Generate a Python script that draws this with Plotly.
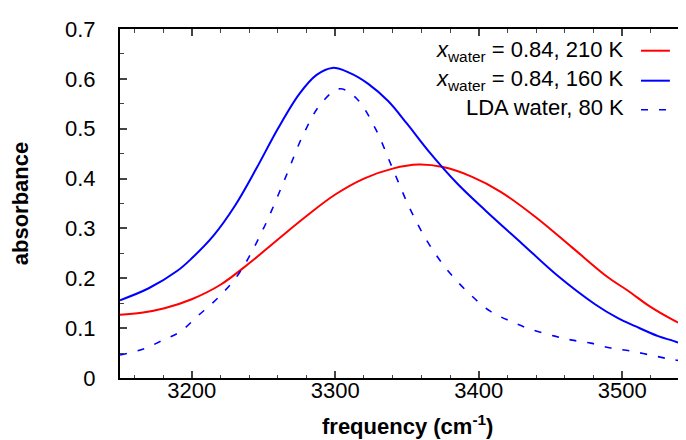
import plotly.graph_objects as go

# frequency (cm-1) and absorbance
freq_210 = [3150, 3165, 3181, 3200, 3220, 3240, 3260, 3280, 3300, 3320, 3340, 3358, 3375, 3395, 3415, 3440, 3465, 3490, 3504, 3520, 3535, 3550]
abs_210 = [0.127, 0.131, 0.140, 0.158, 0.187, 0.230, 0.278, 0.325, 0.368, 0.400, 0.420, 0.428, 0.423, 0.404, 0.374, 0.322, 0.262, 0.202, 0.175, 0.142, 0.117, 0.096]

freq_160 = [3150, 3170, 3190, 3200, 3215, 3230, 3245, 3260, 3275, 3287, 3298, 3310, 3323, 3337, 3350, 3365, 3385, 3405, 3430, 3455, 3481, 3497, 3509, 3525, 3536, 3550]
abs_160 = [0.156, 0.180, 0.215, 0.240, 0.285, 0.345, 0.420, 0.500, 0.570, 0.608, 0.622, 0.612, 0.590, 0.555, 0.510, 0.455, 0.390, 0.335, 0.270, 0.205, 0.148, 0.120, 0.104, 0.084, 0.074, 0.060]

freq_lda = [3150, 3167, 3180, 3192, 3204, 3218, 3233, 3250, 3265, 3278, 3290, 3303, 3315, 3328, 3340, 3352, 3365, 3380, 3395, 3408, 3422, 3436, 3453, 3465, 3478, 3492, 3506, 3523, 3537, 3550]
abs_lda = [0.046, 0.059, 0.076, 0.093, 0.124, 0.160, 0.210, 0.300, 0.400, 0.490, 0.550, 0.580, 0.560, 0.500, 0.420, 0.340, 0.270, 0.210, 0.165, 0.134, 0.114, 0.098, 0.084, 0.076, 0.070, 0.060, 0.054, 0.044, 0.036, 0.033]

labels = ['<i>x</i><sub>water</sub> = 0.84, 210 K',
          '<i>x</i><sub>water</sub> = 0.84, 160 K',
          'LDA water, 80 K']

FONT = 'Liberation Sans'
DASH = '7px,11px'

fig = go.Figure()
fig.add_trace(go.Scatter(x=freq_210, y=abs_210, mode='lines', line=dict(color='#ff0000', width=2, shape='spline')))
fig.add_trace(go.Scatter(x=freq_160, y=abs_160, mode='lines', line=dict(color='#0000ff', width=2, shape='spline')))
fig.add_trace(go.Scatter(x=freq_lda, y=abs_lda, mode='lines', line=dict(color='#0000ff', width=1.6, dash=DASH, shape='spline')))
# empty trace so the right-hand tick axis gets drawn
fig.add_trace(go.Scatter(x=[], y=[], yaxis='y2'))

# gnuplot style key: text right aligned, sample on the right
text_y = [0.937, 0.854, 0.7765]
line_y = [0.9378, 0.8519, 0.7688]
styles = [dict(color='#ff0000', width=2), dict(color='#0000ff', width=2), dict(color='#0000ff', width=1.6, dash=DASH)]
for lab, ty, ly, st in zip(labels, text_y, line_y, styles):
    fig.add_annotation(x=0.8815, y=ty, xref='paper', yref='paper', text=lab, showarrow=False,
                       xanchor='right', yanchor='middle', font=dict(family=FONT, size=22, color='black'))
    fig.add_shape(type='line', xref='paper', yref='paper', x0=0.9077, x1=0.958, y0=ly, y1=ly, line=st)

# x title as an annotation so it can sit right at the bottom edge
fig.add_annotation(x=0.5, y=-0.181, xref='paper', yref='paper', showarrow=False,
                   text='<b>frequency (cm<sup>-1</sup>)</b>', xanchor='center', yanchor='bottom',
                   font=dict(family=FONT, size=22, color='black'))

fig.update_layout(
    width=686, height=440,
    margin=dict(l=112, r=0, t=21, b=70),
    plot_bgcolor='white', paper_bgcolor='white',
    showlegend=False,
    font=dict(family=FONT, size=22, color='black'),
    xaxis=dict(range=[3150, 3550], dtick=100, tick0=3200, ticks='inside', ticklen=7, tickwidth=1.5,
               showline=True, linewidth=2, linecolor='black', mirror='ticks', showgrid=False, zeroline=False,
               minor=dict(dtick=20, tick0=3200, ticks='inside', ticklen=3.5, tickwidth=1.2, showgrid=False),
               ticklabelstandoff=-8),
    yaxis=dict(range=[0, 0.7], dtick=0.1, ticks='inside', ticklen=7, tickwidth=1.5,
               showline=True, linewidth=2, linecolor='black', showgrid=False, zeroline=False,
               minor=dict(dtick=0.05, ticks='inside', ticklen=3.5, tickwidth=1.2, showgrid=False),
               ticklabelstandoff=18,
               title=dict(text='<b>absorbance</b>', font=dict(size=22), standoff=36)),
    yaxis2=dict(range=[0, 0.7], dtick=0.1, ticks='inside', ticklen=7, tickwidth=1.5, overlaying='y',
                side='right', anchor='x', showline=False, showgrid=False, zeroline=False, showticklabels=False,
                minor=dict(dtick=0.05, ticks='inside', ticklen=3.5, tickwidth=1.2, showgrid=False)),
)

fig.write_html('out.html')
